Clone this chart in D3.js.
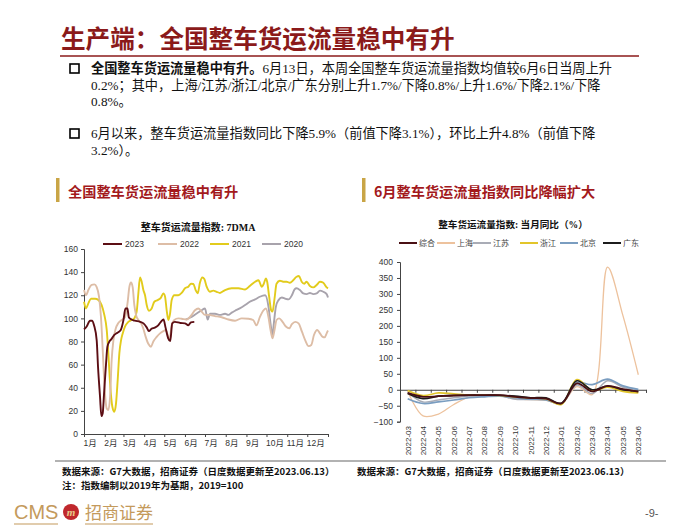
<!DOCTYPE html>
<html><head><meta charset="utf-8">
<script src="https://cdn.jsdelivr.net/npm/d3@7"></script>
<style>
body{margin:0;background:#fff;}
svg text{font-family:"Liberation Sans","Noto Sans CJK SC",sans-serif;}
</style>
</head><body>
<svg id="c" width="700" height="525"></svg>
<script>
// ---------------- DATA ----------------
const monthLabels = ["1月","2月","3月","4月","5月","6月","7月","8月","9月","10月","11月","12月"];
const monthStartDays = [0,31,59,90,120,151,181,212,243,273,304,334,365];
const leftYTicks = [0,20,40,60,80,100,120,140,160];
const yearNames = ["2023","2022","2021","2020"];
// [day of year, index value]
const s2023 = [[0,90.5],[4,93],[9,98],[12,98],[15,94],[19,81],[21,58],[24,32],[26,15.5],[28,18],[30,35],[33,61],[35,75.5],[38,80],[41,82],[45,85.5],[50,87.6],[55,90],[59,98.5],[62,108.6],[65,108.6],[67,101],[71,99],[76,98],[84,97],[89,95.7],[94,92],[97,89],[101,91],[106,92],[111,94],[115,97],[119,99],[122,92],[126,82.7],[129,80.4],[132,95.7],[136,97],[144,96],[151,95.7],[156,94],[160,96.5],[165,97]];
const s2022 = [[0,124.5],[3,120],[6.5,124.5],[11.5,129],[15.5,129.4],[19,127],[22.4,119],[25.4,101],[28,72.6],[30.4,44],[34,22],[36.4,20.7],[39,32],[41.4,64],[44,81],[47.4,91],[51.4,96],[56.4,98.6],[61.3,101],[65.3,114],[67.8,127],[70.3,131],[72.8,127],[75.3,111.5],[77.8,103],[81.3,98.6],[85.3,96],[88.8,91],[92.3,84],[96.2,78],[100.2,75.5],[103.7,80],[108.7,84],[113.7,87],[118.7,89],[122.2,90],[125.2,85.6],[127.7,81],[131.2,94],[135,98.6],[141,100],[146,99.7],[153.6,99],[161,103],[166,107],[171,108.6],[176,105.8],[181,103],[186,103],[196,102],[206,101],[216,99],[226,98],[236,100],[246,99.7],[253,98.6],[258,94],[263,101],[268,106.6],[272,108.6],[276,101],[279,90],[282,82.7],[285,90],[288,98.6],[292,100],[297,97],[302,93],[307,91.4],[311,95],[316,97],[321,95.7],[326,88.5],[331,81],[336,76],[340,77],[344,85.6],[349,90],[353,87],[357,84],[360,83.6],[363,87],[365,89.5]];
const s2021 = [[0,114.4],[3,108.6],[6.5,113],[10.5,117],[16.5,117],[21.4,116],[26.4,111.5],[30.4,103],[34,90],[36.4,70],[39,44],[42.4,23.6],[45.4,19.3],[47.9,26.5],[50.4,46.7],[52.9,70],[55.4,81],[57.9,87],[61.3,92.8],[66.3,97],[71.3,98.6],[75.3,100],[78.8,105.8],[81.3,121.6],[83.8,135.4],[86.3,131.7],[88.8,124.5],[91.3,120],[93.8,111.5],[97.2,106.6],[101.2,108.6],[105.2,114.4],[110.2,115.8],[115.2,118],[118.7,121.6],[121.2,119],[123.7,107],[126.2,98.6],[128.7,104],[131.2,115.8],[135.1,120],[141.1,120],[146.1,122],[151.1,126],[156.1,127.4],[160.1,130],[163.6,129.7],[167,124.5],[170,121.6],[173.5,131],[177,135.4],[180,134],[183.5,127.4],[188.4,123],[193.4,124],[198.4,123],[203.4,122],[211,124.5],[221,126],[231,126],[241,125],[248,128],[256,131.7],[261,133],[266,127.4],[269,130],[272,134.6],[274,131.7],[277,118.7],[280,107],[282,105.8],[285,117],[288,130],[293,132.6],[298,131.7],[303,131.7],[308,130.8],[313,133],[318,136],[321.6,136.6],[325.6,131.7],[329.6,130],[333,131.7],[338,128],[343,126.8],[348,128.8],[353,131.7],[358,130.8],[363,126.8],[365,126]];
const s2020 = [[152,99],[160,101],[168,104],[176,107],[181,108.6],[185,99],[188.4,104],[196,104],[203.4,103],[211,104],[216,103],[221,105],[226,106.6],[233,108.6],[241,111.5],[248,114.4],[256,116.4],[263,118.7],[271,120],[276,110],[279,95.7],[282,85.6],[284,95.7],[287,110],[291,115.8],[296,118],[301,117],[306,116.4],[311,120],[315,125],[318,126],[323,124.5],[328,121.6],[333,121],[338,122],[343,121],[348,121.6],[353,124],[358,123],[363,121],[365,118]];

const categories = ["2022-03","2022-04","2022-05","2022-06","2022-07","2022-08","2022-09","2022-10","2022-11","2022-12","2023-01","2023-02","2023-03","2023-04","2023-05","2023-06"];
const rightYTicks = [-100,-50,0,50,100,150,200,250,300,350,400];
const regionNames = ["综合","上海","江苏","浙江","北京","广东"];
const yoyTotal    = [-10,-22,-20,-18,-17,-17,-17,-22,-26,-28,-43,20,-5,12,2,-6];
const yoyShanghai = [-5,-82,-76,-46,-23,-18,-19,-28,-31,-33,-44,10,-15,384,232,47];
const yoyJiangsu  = [-8,-38,-32,-25,-20,-18,-18,-30,-30,-30,-42,15,-12,28,8,-2];
const yoyZhejiang = [-2,-18,-10,-13,-16,-17,-18,-22,-26,-28,-46,32,-2,8,-5,-10];
const yoyBeijing  = [-28,-43,-38,-32,-25,-22,-20,-25,-30,-32,-44,22,16,33,12,1];
const yoyGuangdong= [-12,-28,-20,-18,-17,-17,-17,-20,-25,-25,-42,28,0,12,0,-5];

// ---------------- DRAW ----------------
const svg = d3.select("#c");
svg.append("rect").attr("width",700).attr("height",525).attr("fill","#fff");
const CJK = '"Noto Sans CJK SC",sans-serif';
const SER = '"Liberation Serif","Noto Sans CJK SC",serif';

// title
svg.append("text").attr("x",61).attr("y",48).attr("font-size",24.6).attr("font-weight","bold")
  .attr("fill","#8B1A1A").style("font-family",CJK).text("生产端：全国整车货运流量稳中有升");
svg.append("line").attr("x1",60).attr("x2",639).attr("y1",56).attr("y2",56)
  .attr("stroke","#8B1A1A").attr("stroke-width",1.6);

// bullets
const bullets = [
  {y:73, lines:[[["全国整车货运流量稳中有升。","bold"],["6月13日，本周全国整车货运流量指数均值较6月6日当周上升","normal"]],
                [["0.2%；其中，上海/江苏/浙江/北京/广东分别上升1.7%/下降0.8%/上升1.6%/下降2.1%/下降","normal"]],
                [["0.8%。","normal"]]]},
  {y:138, lines:[[["6月以来，整车货运流量指数同比下降5.9%（前值下降3.1%），环比上升4.8%（前值下降","normal"]],
                 [["3.2%）。","normal"]]]}
];
bullets.forEach(b=>{
  svg.append("rect").attr("x",70).attr("y",b.y-9).attr("width",9).attr("height",9)
    .attr("fill","none").attr("stroke","#000").attr("stroke-width",1.6);
  b.lines.forEach((ln,i)=>{
    const t = svg.append("text").attr("x",91).attr("y",b.y+i*16.5).attr("font-size",13.2)
      .attr("fill","#111").style("font-family",SER);
    ln.forEach(seg=>t.append("tspan").attr("font-weight",seg[1]).text(seg[0]));
  });
});

// section headers
function header(x0,x1,text){
  svg.append("rect").attr("x",x0+1).attr("y",178).attr("width",3.5).attr("height",24).attr("fill","#C9A546");
  svg.append("text").attr("x",x0+13).attr("y",197).attr("font-size",14.2).attr("font-weight","bold")
    .attr("fill","#A3191C").style("font-family",CJK).text(text);
  const g = svg.append("defs").append("linearGradient").attr("id","g"+x0);
  g.append("stop").attr("offset","0").attr("stop-color","#777");
  g.append("stop").attr("offset","1").attr("stop-color","#999");
  svg.append("line").attr("x1",x0).attr("x2",x1).attr("y1",208).attr("y2",208)
    .attr("stroke","url(#g"+x0+")").attr("stroke-width",1.5);
}
header(55,346,"全国整车货运流量稳中有升");
header(361,667,"6月整车货运流量指数同比降幅扩大");

// ---------- left chart ----------
const xL = d3.scaleLinear().domain([0,365]).range([84,328]);
const yL = d3.scaleLinear().domain([0,160]).range([434,249]);
svg.append("text").attr("x",198).attr("y",231).attr("text-anchor","middle").attr("font-size",10)
  .attr("font-weight","bold").attr("fill","#111").style("font-family",SER).text("整车货运流量指数: 7DMA");

const yAxL = svg.append("g").attr("transform","translate(84,0)")
  .call(d3.axisLeft(yL).tickValues(leftYTicks).tickSize(3).tickPadding(3));
const xAxL = svg.append("g").attr("transform","translate(0,434)")
  .call(d3.axisBottom(xL).tickValues(monthStartDays).tickSize(3).tickPadding(3)
    .tickFormat((d,i)=> i<12 ? monthLabels[i] : ""));
xAxL.selectAll("text").attr("text-anchor","start").attr("dx",-1);
[yAxL,xAxL].forEach(a=>{
  a.selectAll("text").attr("font-size",8.5).attr("fill","#333").style("font-family",'"Liberation Sans","Noto Sans CJK SC",sans-serif');
  a.selectAll("path,line").attr("stroke","#444");
});

const leftSeries = [
  {name:"2020", data:s2020, color:"#A8A3AC"},
  {name:"2021", data:s2021, color:"#E2CB1C"},
  {name:"2022", data:s2022, color:"#DDBDA6"},
  {name:"2023", data:s2023, color:"#5C0E14"}
];
const lineL = d3.line().x(d=>xL(d[0])).y(d=>yL(d[1])).curve(d3.curveMonotoneX);
leftSeries.forEach(s=>{
  svg.append("path").datum(s.data).attr("d",lineL).attr("fill","none")
    .attr("stroke",s.color).attr("stroke-width",1.9).attr("stroke-linejoin","round");
});
// legend
const legL = [["2023",103],["2022",158],["2021",210],["2020",262]];
legL.forEach(([n,x])=>{
  const s = leftSeries.find(d=>d.name===n);
  svg.append("line").attr("x1",x).attr("x2",x+19).attr("y1",244).attr("y2",244)
    .attr("stroke",s.color).attr("stroke-width",2);
  svg.append("text").attr("x",x+22).attr("y",247).attr("font-size",8.5).attr("fill","#333").text(n);
});

// ---------- right chart ----------
const xR = d3.scaleBand().domain(categories).range([400,646]);
const yR = d3.scaleLinear().domain([-100,400]).range([421.7,262]);
svg.append("text").attr("x",513).attr("y",228).attr("text-anchor","middle").attr("font-size",9.6)
  .attr("font-weight","bold").attr("fill","#111").style("font-family",SER).text("整车货运流量指数: 当月同比（%）");

const yAxR = svg.append("g").attr("transform","translate(400,0)")
  .call(d3.axisLeft(yR).tickValues(rightYTicks).tickSize(3).tickPadding(4));
yAxR.selectAll("text").attr("font-size",8.5).attr("fill","#333");
yAxR.selectAll("path,line").attr("stroke","#444");
// zero axis with ticks at band boundaries
const xIdx = d3.scaleLinear().domain([0,categories.length]).range([400,646]);
const zAx = svg.append("g").attr("transform","translate(0,"+yR(0)+")")
  .call(d3.axisBottom(xIdx).tickValues(d3.range(categories.length+1)).tickSize(3).tickFormat(""));
zAx.selectAll("path,line").attr("stroke","#444");
// category labels
const lAx = svg.append("g").attr("transform","translate(0,426)")
  .call(d3.axisBottom(xR).tickSize(0).tickPadding(0));
lAx.select(".domain").remove();
lAx.selectAll("text").attr("transform","rotate(-90)").attr("text-anchor","end")
  .attr("x",0).attr("y",0).attr("dy","0.35em").attr("font-size",8).attr("fill","#333");

const rightSeries = [
  {name:"上海", data:yoyShanghai, color:"#EDC29D", w:1.3},
  {name:"江苏", data:yoyJiangsu, color:"#A9ACB6", w:1.5},
  {name:"北京", data:yoyBeijing, color:"#7A9DC0", w:1.7},
  {name:"浙江", data:yoyZhejiang, color:"#E2C52A", w:1.7},
  {name:"广东", data:yoyGuangdong, color:"#1C1C1C", w:1.6},
  {name:"综合", data:yoyTotal, color:"#4A1014", w:1.8}
];
const lineR = d3.line().x((d,i)=>xR(categories[i])+xR.bandwidth()/2).y(d=>yR(d)).curve(d3.curveCatmullRom.alpha(0.5));
rightSeries.forEach(s=>{
  svg.append("path").datum(s.data).attr("d",lineR).attr("fill","none")
    .attr("stroke",s.color).attr("stroke-width",s.w).attr("stroke-linejoin","round");
});
const legR = [["综合",399],["上海",437],["江苏",473],["浙江",520],["北京",560],["广东",603]];
legR.forEach(([n,x])=>{
  const s = rightSeries.find(d=>d.name===n);
  svg.append("line").attr("x1",x).attr("x2",x+18).attr("y1",243).attr("y2",243)
    .attr("stroke",s.color).attr("stroke-width",2);
  svg.append("text").attr("x",x+20).attr("y",246).attr("font-size",8).attr("fill","#444")
    .style("font-family",CJK).text(n);
});

// ---------- footer ----------
svg.append("line").attr("x1",55).attr("x2",666).attr("y1",461).attr("y2",461).attr("stroke","#666").attr("stroke-width",1.2);
const src = "数据来源：G7大数据，招商证券（日度数据更新至2023.06.13）";
svg.append("text").attr("x",62).attr("y",475).attr("font-size",9.5).attr("font-weight","bold").attr("fill","#111").style("font-family",CJK).text(src);
svg.append("text").attr("x",357).attr("y",475).attr("font-size",9.5).attr("font-weight","bold").attr("fill","#111").style("font-family",CJK).text(src);
svg.append("text").attr("x",62).attr("y",489).attr("font-size",9.5).attr("font-weight","bold").attr("fill","#111").style("font-family",CJK).text("注：指数编制以2019年为基期，2019=100");

// logo
svg.append("text").attr("x",14).attr("y",519).attr("font-size",20).attr("fill","#C49A5C")
  .style("font-family",'"Liberation Sans",sans-serif').text("CMS");
svg.append("circle").attr("cx",71).attr("cy",512).attr("r",8).attr("fill","#C0282D");
svg.append("text").attr("x",71).attr("y",516).attr("text-anchor","middle").attr("font-size",11).attr("font-style","italic")
  .attr("font-weight","bold").attr("fill","#E9C98A").style("font-family",'"Liberation Serif",serif').text("m");
svg.append("text").attr("x",85).attr("y",519).attr("font-size",17).attr("fill","#C49A5C").style("font-family",CJK).text("招商证券");
svg.append("line").attr("x1",14).attr("x2",58).attr("y1",524).attr("y2",524).attr("stroke","#C49A5C").attr("stroke-width",1.2);
svg.append("line").attr("x1",85).attr("x2",153).attr("y1",524).attr("y2",524).attr("stroke","#C49A5C").attr("stroke-width",1.2);
svg.append("text").attr("x",645).attr("y",517).attr("font-size",11).attr("fill","#555").text("-9-");
</script>
</body></html>
